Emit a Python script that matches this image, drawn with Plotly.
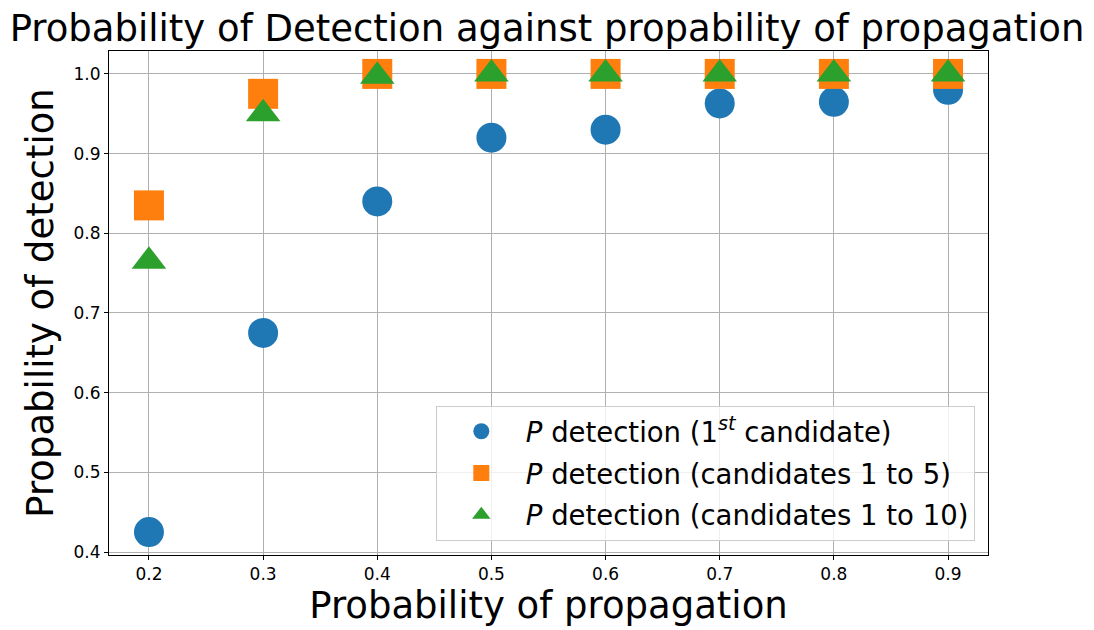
import plotly.graph_objects as go

prop = [0.2, 0.3, 0.4, 0.5, 0.6, 0.7, 0.8, 0.9]
p_first = [0.425, 0.675, 0.84, 0.92, 0.93, 0.963, 0.965, 0.98]
p_top5 = [0.835, 0.975, 1.0, 1.0, 1.0, 1.0, 1.0, 1.0]
p_top10 = [0.765, 0.95, 0.997, 1.0, 1.0, 1.0, 1.0, 1.0]

names = ["<i>P</i> detection (1<sup><i>st</i></sup> candidate)",
         "<i>P</i> detection (candidates 1 to 5)",
         "<i>P</i> detection (candidates 1 to 10)"]
series = [p_first, p_top5, p_top10]
colors = ["#1f77b4", "#ff7f0e", "#2ca02c"]
symbols = ["circle", "square", "triangle-up"]
groups = ["g1", "g2", "g3"]

fig = go.Figure()
for nm, ys, c, s, g in zip(names, series, colors, symbols, groups):
    fig.add_trace(go.Scatter(x=prop, y=ys, mode="markers", name=nm, legendgroup=g,
                             marker=dict(color=c, symbol=s, size=30, line=dict(width=0))))

FONT = "DejaVu Sans"
fig.update_layout(
    width=1094, height=630,
    margin=dict(l=109, r=106, t=51, b=75),
    paper_bgcolor="white", plot_bgcolor="white",
    font=dict(family=FONT, color="black"),
    title=dict(text="Probability of Detection against propability of propagation",
               x=0.5, xanchor="center", y=0.955, yanchor="middle",
               font=dict(size=37, family=FONT)),
    legend=dict(x=0.985, y=0.028, xanchor="right", yanchor="bottom",
                font=dict(size=27.5, family=FONT), bgcolor="rgba(255,255,255,0.8)",
                bordercolor="#cccccc", borderwidth=1, itemsizing="trace",
                itemwidth=79, tracegroupgap=3),
    showlegend=True,
)
fig.update_xaxes(range=[0.165, 0.935], tickvals=prop, ticktext=[f"{v:.1f}" for v in prop],
                 showgrid=True, gridcolor="#b0b0b0", gridwidth=1,
                 showline=True, linecolor="black", linewidth=1, mirror=True,
                 ticks="outside", ticklen=4, tickcolor="black",
                 tickfont=dict(size=17, family=FONT), zeroline=False,
                 title=dict(text="Probability of propagation", font=dict(size=37, family=FONT), standoff=6))
fig.update_yaxes(range=[0.39625, 1.02875], tickvals=[0.4, 0.5, 0.6, 0.7, 0.8, 0.9, 1.0],
                 ticktext=["0.4", "0.5", "0.6", "0.7", "0.8", "0.9", "1.0"],
                 showgrid=True, gridcolor="#b0b0b0", gridwidth=1,
                 showline=True, linecolor="black", linewidth=1, mirror=True,
                 ticks="outside", ticklen=4, tickcolor="black",
                 tickfont=dict(size=17, family=FONT), zeroline=False,
                 title=dict(text="Propability of detection", font=dict(size=37, family=FONT), standoff=8))
fig.write_html("out.html")
